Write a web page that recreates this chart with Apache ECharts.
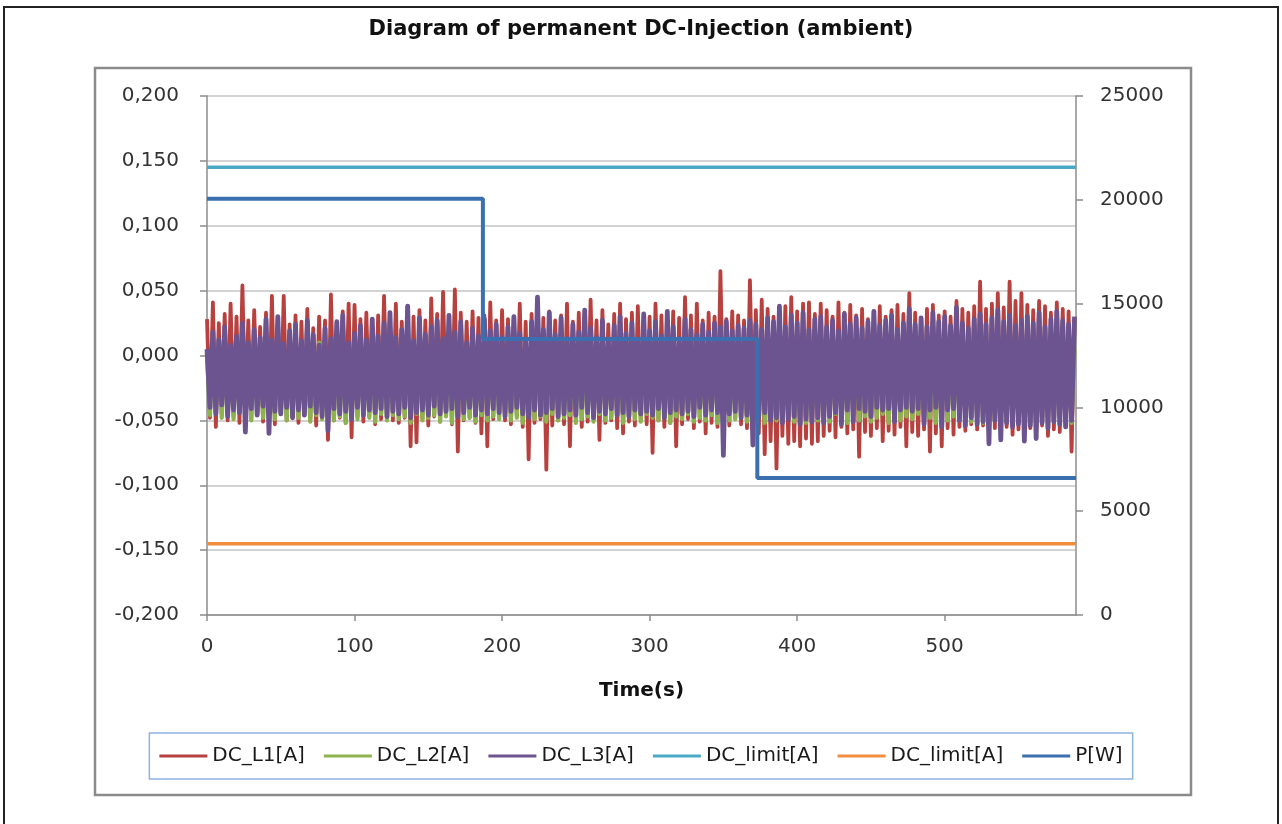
<!DOCTYPE html>
<html>
<head>
<meta charset="utf-8">
<script src="https://cdn.jsdelivr.net/npm/echarts@6/dist/echarts.min.js"></script>
<style>
html,body{margin:0;padding:0;background:#fff;}
#chart{width:1282px;height:824px;}
</style>
</head>
<body>
<div id="chart"></div>
<script>
// ---- data ----
const sampleStep = 2; // seconds between samples
// DC currents in mA (converted to A below)
const dcL1_mA = [
28,-48,41,-55,25,-45,32,-50,40,-47,
30,-52,54,-46,27,-49,35,-44,22,-51,
33,-47,46,-53,29,-45,46,-50,24,-48,
31,-52,26,-46,36,-49,21,-54,30,-47,
27,-65,47,-50,25,-48,34,-52,40,-63,
39,-47,28,-51,33,-46,23,-53,31,-49,
46,-45,29,-50,40,-52,26,-48,38,-70,
30,-67,35,-49,27,-54,44,-47,32,-51,
49,-46,28,-53,51,-74,33,-50,26,-48,
34,-52,29,-60,31,-70,41,-49,27,-47,
35,-50,28,-53,30,-47,40,-55,26,-80,
32,-52,36,-49,29,-88,34,-54,27,-50,
31,-53,40,-70,26,-48,33,-55,29,-51,
43,-49,27,-65,35,-52,24,-50,32,-56,
40,-60,28,-51,33,-54,38,-49,25,-53,
30,-75,40,-50,31,-55,26,-52,34,-70,
29,-53,45,-49,31,-56,40,-51,27,-60,
33,-52,30,-55,65,-50,28,-54,34,-48,
31,-53,27,-56,58,-51,35,-60,43,-76,
36,-66,30,-87,33,-62,38,-68,45,-66,
34,-70,40,-64,41,-68,32,-66,40,-62,
35,-58,30,-63,41,-55,33,-60,39,-57,
31,-78,36,-59,28,-62,34,-56,38,-66,
30,-58,35,-61,39,-55,32,-70,48,-59,
33,-62,29,-57,36,-74,39,-60,31,-70,
34,-56,30,-61,42,-55,36,-58,33,-53,
38,-57,57,-54,36,-60,40,-56,48,-58,
37,-55,57,-61,42,-57,48,-59,39,-56,
35,-60,42,-54,38,-62,33,-57,41,-59,
36,-55,34,-74,28
];
const dcL2_mA = [
2,-46,8,-43,0,-48,6,-45,-3,-49,
5,-44,10,-47,3,-50,7,-45,-2,-48,
9,-46,4,-49,11,-44,1,-50,6,-47,
3,-48,8,-45,-1,-51,5,-46,10,-49,
7,-45,2,-50,9,-47,4,-52,0,-46,
6,-49,11,-44,3,-48,8,-51,1,-45,
10,-50,5,-46,12,-49,2,-47,7,-52,
4,-45,9,-50,0,-48,6,-46,11,-51,
3,-47,8,-52,5,-45,10,-49,1,-48,
7,-51,2,-46,9,-50,4,-47,8,-49,
6,-45,11,-50,3,-48,7,-52,0,-46,
9,-49,4,-47,10,-51,2,-45,8,-50,
5,-48,12,-46,1,-52,7,-49,3,-47,
10,-51,6,-45,8,-50,2,-48,9,-46,
4,-52,7,-47,11,-49,0,-51,6,-45,
8,-48,3,-50,10,-46,5,-52,1,-47,
7,-49,12,-45,4,-51,9,-48,2,-50,
6,-46,10,-52,3,-47,8,-50,5,-49,
11,-45,2,-51,7,-48,4,-46,9,-52,
3,-47,8,-50,0,-49,6,-45,10,-51,
5,-48,2,-52,9,-46,1,-50,7,-47,
4,-51,10,-45,3,-49,8,-52,6,-46,
9,-50,1,-47,7,-51,3,-48,11,-45,
2,-52,8,-46,5,-50,10,-47,0,-49,
7,-45,4,-51,9,-48,2,-52,6,-46,
11,-50,3,-47,8,-49,5,-45,1,-51,
6,-48,10,-52,4,-46,7,-50,2,-47,
9,-51,5,-45,11,-49,3,-48,8,-52,
4,-46,7,-50,1,-47,10,-51,6,-45,
8,-49,3,-52,5
];
const dcL3_mA = [
5,-40,18,-45,12,-38,22,-47,8,-42,
15,-44,25,-59,10,-41,20,-46,14,-39,
28,-60,12,-43,30,-45,9,-40,19,-48,
24,-42,11,-46,27,-39,16,-44,8,-47,
21,-58,13,-41,26,-45,31,-43,10,-49,
17,-40,23,-46,12,-42,28,-44,15,-41,
25,-47,33,-43,14,-45,20,-40,38,-48,
11,-44,29,-42,16,-46,22,-39,27,-45,
13,-43,31,-41,18,-47,26,-44,10,-40,
21,-46,15,-42,28,-45,19,-41,24,-44,
14,-47,22,-43,30,-40,17,-45,12,-48,
26,-42,45,-46,20,-44,33,-41,16,-47,
29,-45,13,-42,24,-46,18,-40,35,-44,
21,-48,14,-43,27,-45,11,-41,23,-46,
30,-44,17,-47,25,-42,12,-45,32,-43,
19,-46,26,-41,15,-48,34,-44,22,-42,
13,-45,28,-43,20,-47,16,-40,24,-46,
18,-42,25,-44,22,-77,26,-45,19,-43,
23,-48,21,-46,27,-69,24,-47,20,-44,
29,-50,26,-48,38,-52,22,-49,31,-47,
25,-53,33,-49,20,-51,28,-48,30,-52,
22,-47,27,-44,19,-53,32,-42,24,-51,
29,-41,21,-43,26,-47,34,-40,23,-42,
27,-41,31,-51,20,-42,25,-40,36,-43,
24,-41,29,-53,22,-42,33,-40,26,-55,
30,-42,23,-41,37,-50,25,-54,21,-48,
28,-53,32,-51,24,-68,29,-50,35,-65,
26,-52,31,-55,23,-53,27,-66,30,-54,
25,-64,33,-52,22,-56,28,-51,34,-53,
27,-55,24,-50,30
];
const limitTime = [0, 589];
const dcLimitUpper = [0.145, 0.145];
const dcLimitLower = [-0.145, -0.145];
const powerTime = [0, 187, 373, 589];
const powerW = [20050, 13300, 6600, 6600];

const seriesNames = ['DC_L1[A]', 'DC_L2[A]', 'DC_L3[A]', 'DC_limit[A]', 'DC_limit[A]\u200B', 'P[W]'];
const leftTicks = {min: -0.2, max: 0.2, interval: 0.05};
const rightTicks = {min: 0, max: 25000, interval: 5000};
const xTicks = {min: 0, max: 589, interval: 100};

// ---- build ----
const toPairs = arr => arr.map((v, i) => [i * sampleStep, v / 1000]);
const zip = (xs, ys) => xs.map((x, i) => [x, ys[i]]);

const FONT = 'DejaVu Sans';
const chart = echarts.init(document.getElementById('chart'), null, {renderer: 'canvas'});
const noiseSeries = (name, data, color, width) => ({
  name, type: 'line', data, yAxisIndex: 0, symbol: 'none',
  lineStyle: {color, width, join: 'round'}, itemStyle: {color}, silent: true
});

chart.setOption({
  animation: false,
  backgroundColor: '#ffffff',
  title: {
    text: 'Diagram of permanent DC-Injection (ambient)',
    left: 'center', top: 14,
    textStyle: {fontFamily: FONT, fontWeight: 'bold', fontSize: 21, color: '#111'}
  },
  graphic: [
    {type: 'polyline', z: 0, shape: {points: [[4, 830], [4, 7], [1278, 7], [1278, 830]]},
     style: {stroke: '#222', lineWidth: 2, fill: null}},
    {type: 'rect', z: 0, shape: {x: 95, y: 68, width: 1096, height: 727},
     style: {stroke: '#8a8a8a', lineWidth: 2.5, fill: null}}
  ],
  grid: {left: 207, right: 206, top: 96, bottom: 209, containLabel: false},
  legend: {
    left: 'center', top: 733,
    icon: 'rect', itemWidth: 48, itemHeight: 3, itemGap: 19,
    padding: [13, 10, 13, 10],
    borderColor: '#8db3e2', borderWidth: 1.5,
    textStyle: {fontFamily: FONT, fontSize: 20, color: '#1a1a1a'},
    data: seriesNames
  },
  xAxis: {
    type: 'value', min: xTicks.min, max: xTicks.max, interval: xTicks.interval,
    name: 'Time(s)', nameLocation: 'middle', nameGap: 66,
    nameTextStyle: {fontFamily: FONT, fontWeight: 'bold', fontSize: 20, color: '#111'},
    axisLine: {show: true, onZero: false, lineStyle: {color: '#8c8c8c', width: 1.5}},
    axisTick: {show: true, length: 6, lineStyle: {color: '#8c8c8c', width: 1.5}},
    axisLabel: {margin: 22, fontFamily: FONT, fontSize: 20, color: '#333', showMaxLabel: false},
    splitLine: {show: false}
  },
  yAxis: [
    {
      type: 'value', position: 'left', min: leftTicks.min, max: leftTicks.max, interval: leftTicks.interval,
      axisLine: {show: true, onZero: false, lineStyle: {color: '#8c8c8c', width: 1.5}},
      axisTick: {show: true, length: 7, lineStyle: {color: '#8c8c8c', width: 1.5}},
      axisLabel: {margin: 28, fontFamily: FONT, fontSize: 20, color: '#333',
        formatter: v => v.toFixed(3).replace('.', ',')},
      splitLine: {show: true, lineStyle: {color: '#c4c4c4', width: 1.5}}
    },
    {
      type: 'value', position: 'right', min: rightTicks.min, max: rightTicks.max, interval: rightTicks.interval,
      axisLine: {show: true, onZero: false, lineStyle: {color: '#8c8c8c', width: 1.5}},
      axisTick: {show: true, length: 7, lineStyle: {color: '#8c8c8c', width: 1.5}},
      axisLabel: {margin: 24, fontFamily: FONT, fontSize: 20, color: '#333',
        formatter: v => String(Math.round(v))},
      splitLine: {show: false}
    }
  ],
  series: [
    noiseSeries(seriesNames[0], toPairs(dcL1_mA), '#b6413e', 3.8),
    noiseSeries(seriesNames[1], toPairs(dcL2_mA), '#8db24e', 4.2),
    noiseSeries(seriesNames[2], toPairs(dcL3_mA), '#6c5490', 4.8),
    {name: seriesNames[3], type: 'line', data: zip(limitTime, dcLimitUpper), yAxisIndex: 0, symbol: 'none',
     lineStyle: {color: '#4aaac5', width: 3.5}, itemStyle: {color: '#4aaac5'}},
    {name: seriesNames[4], type: 'line', data: zip(limitTime, dcLimitLower), yAxisIndex: 0, symbol: 'none',
     lineStyle: {color: '#f28d3e', width: 3.5}, itemStyle: {color: '#f28d3e'}},
    {name: seriesNames[5], type: 'line', step: 'end', data: zip(powerTime, powerW), yAxisIndex: 1, symbol: 'none',
     lineStyle: {color: '#3b6fb0', width: 4}, itemStyle: {color: '#3b6fb0'}}
  ]
});
</script>
</body>
</html>
